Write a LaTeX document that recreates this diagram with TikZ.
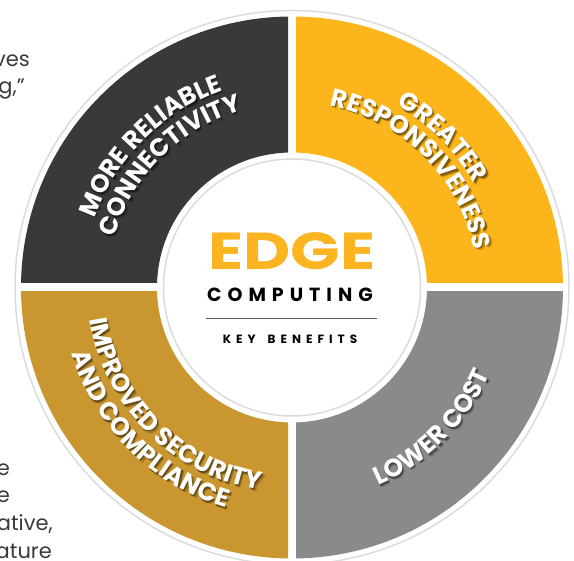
\documentclass[tikz,border=0pt]{standalone}
\usepackage{fontspec}
\setmainfont{Poppins}
\usetikzlibrary{decorations.text}
\definecolor{qdark}{HTML}{373A36}
\definecolor{qyellow}{HTML}{FCB61C}
\definecolor{qgold}{HTML}{C9962F}
\definecolor{qgray}{HTML}{8A8A8D}
\definecolor{ringgray}{HTML}{DCDCDC}
\definecolor{bodytext}{HTML}{3A3A3A}
\definecolor{edgeyellow}{HTML}{FCB421}
\newcommand\qfont{\bfseries\fontsize{25}{25}\selectfont}
\newcommand\arctext[4]{%
  \begin{scope}[opacity=0.22]
    \path[decorate,decoration={text along path,text align=center,text={|\qfont\color{black}|#4}}]
      ([shift={(2.4,-2.8)}]C) ++(#2:#1) arc[start angle=#2,end angle=#3,radius=#1];
  \end{scope}
  \begin{scope}[opacity=0.35]
    \path[decorate,decoration={text along path,text align=center,text={|\qfont\color{black}|#4}}]
      ([shift={(1.3,-1.6)}]C) ++(#2:#1) arc[start angle=#2,end angle=#3,radius=#1];
  \end{scope}
  \path[decorate,decoration={text along path,text align=center,text={|\qfont\color{white}|#4}}]
    (C) ++(#2:#1) arc[start angle=#2,end angle=#3,radius=#1];
}
\begin{document}
\begin{tikzpicture}[x=1pt,y=1pt,
  frag/.style={anchor=base east,inner sep=0pt,text=bodytext,font=\fontsize{21}{21}\selectfont},
  ringline/.style={draw=ringgray,line width=1.5pt,fill=white}]
\useasboundingbox (0,0) rectangle (574,561);
\clip (0,0) rectangle (574,561);
\coordinate (C) at (292,273.5);
% side text fragments
\node[frag] (f1) at (30,494) {ves};
\node[frag] (f2) at (25,467) {g,”};
\node[frag] (f3) at (10,85) {e};
\node[frag] (f4) at (10,58) {e};
\node[frag] (f5) at (53,30) {ative,};
\node[frag] (f6) at (52,2) {ature};
% outer ring
\path[ringline] (C) circle[radius=277];
% quadrants
\begin{scope}
  \clip ([shift={(-300,4.5)}]C) rectangle ([shift={(-4,300)}]C);
  \fill[qdark,even odd rule] (C) circle[radius=271] (C) circle[radius=135];
\end{scope}
\begin{scope}
  \clip ([shift={(4,4.5)}]C) rectangle ([shift={(300,300)}]C);
  \fill[qyellow,even odd rule] (C) circle[radius=271] (C) circle[radius=135];
\end{scope}
\begin{scope}
  \clip ([shift={(-300,-4.5)}]C) rectangle ([shift={(-4,-300)}]C);
  \fill[qgold,even odd rule] (C) circle[radius=271] (C) circle[radius=135];
\end{scope}
\begin{scope}
  \clip ([shift={(4,-4.5)}]C) rectangle ([shift={(300,-300)}]C);
  \fill[qgray,even odd rule] (C) circle[radius=271] (C) circle[radius=135];
\end{scope}
% inner circle
\path[ringline] (C) circle[radius=128.5];
% curved labels
\arctext{209}{178}{92}{MORE RELIABLE}
\arctext{184}{178}{92}{CONNECTIVITY}
\arctext{210}{88}{2}{GREATER}
\arctext{186}{88}{2}{RESPONSIVENESS}
\arctext{216}{272}{358}{LOWER COST}
\arctext{205}{182}{268}{IMPROVED SECURITY}
\arctext{230}{182}{268}{AND COMPLIANCE}
% centre text
\node[anchor=base,inner sep=0pt,text=edgeyellow,xscale=1.25,font=\bfseries\fontsize{52}{52}\selectfont] (edge) at (292,291) {EDGE};
\node[anchor=base,inner sep=0pt,text=black,font=\bfseries\fontsize{19}{19}\selectfont] (comp) at (290,259.3)
  {C\kern6pt O\kern6pt M\kern6pt P\kern6pt U\kern6pt T\kern6pt I\kern6pt N\kern6pt G};
\coordinate (la) at (206,242.7);
\coordinate (lb) at (376.7,242.7);
\draw[line width=1pt,draw=black!65] (la) -- (lb);
\node[anchor=base,inner sep=0pt,text=black,font=\bfseries\fontsize{12}{12}\selectfont] (key) at (290,217.7)
  {K\kern5pt E\kern5pt Y\kern12pt B\kern5pt E\kern5pt N\kern5pt E\kern5pt F\kern5pt I\kern5pt T\kern5pt S};
\end{tikzpicture}
\end{document}
